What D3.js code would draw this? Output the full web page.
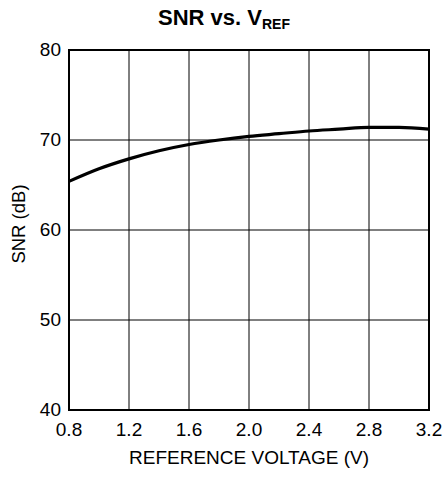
<!DOCTYPE html>
<html>
<head>
<meta charset="utf-8">
<script src="https://cdn.jsdelivr.net/npm/d3@7"></script>
<style>
  body { margin: 0; background: #fff; }
  text { font-family: "Liberation Sans", Arial, sans-serif; fill: #000; }
</style>
</head>
<body>
<div id="chart"></div>
<script>
// values
var vref = [0.8, 1.0, 1.2, 1.4, 1.6, 1.8, 2.0, 2.2, 2.4, 2.6, 2.8, 3.0, 3.2];
var snr = [65.4, 66.8, 67.9, 68.8, 69.5, 70.0, 70.4, 70.7, 71.0, 71.2, 71.4, 71.4, 71.2];
var xTicks = [0.8, 1.2, 1.6, 2.0, 2.4, 2.8, 3.2];
var yTicks = [40, 50, 60, 70, 80];

var width = 445, height = 478;
var margin = { top: 50, right: 16, bottom: 68, left: 69 };

var svg = d3.select("#chart").append("svg")
  .attr("width", width)
  .attr("height", height);

var x = d3.scaleLinear().domain([0.8, 3.2]).range([margin.left, width - margin.right]);
var y = d3.scaleLinear().domain([40, 80]).range([height - margin.bottom, margin.top]);

// grid
svg.append("g").selectAll("line")
  .data(xTicks)
  .enter().append("line")
  .attr("x1", function (d) { return x(d); })
  .attr("x2", function (d) { return x(d); })
  .attr("y1", y(40)).attr("y2", y(80))
  .attr("stroke", "#000").attr("stroke-width", 1);

svg.append("g").selectAll("line")
  .data(yTicks)
  .enter().append("line")
  .attr("x1", x(0.8)).attr("x2", x(3.2))
  .attr("y1", function (d) { return y(d); })
  .attr("y2", function (d) { return y(d); })
  .attr("stroke", "#000").attr("stroke-width", 1);

// frame
svg.append("rect")
  .attr("x", x(0.8)).attr("y", y(80))
  .attr("width", x(3.2) - x(0.8))
  .attr("height", y(40) - y(80))
  .attr("fill", "none").attr("stroke", "#000").attr("stroke-width", 2);

// curve
var line = d3.line()
  .curve(d3.curveMonotoneX)
  .x(function (d, i) { return x(vref[i]); })
  .y(function (d) { return y(d); });

svg.append("path")
  .datum(snr)
  .attr("d", line)
  .attr("fill", "none")
  .attr("stroke", "#000")
  .attr("stroke-width", 3.2);

// tick labels
svg.append("g").selectAll("text")
  .data(xTicks)
  .enter().append("text")
  .attr("x", function (d) { return x(d); })
  .attr("y", y(40) + 26)
  .attr("text-anchor", "middle")
  .style("font-size", "19px")
  .text(function (d) { return d.toFixed(1); });

svg.append("g").selectAll("text")
  .data(yTicks)
  .enter().append("text")
  .attr("x", x(0.8) - 8)
  .attr("y", function (d) { return y(d) + 6; })
  .attr("text-anchor", "end")
  .style("font-size", "19px")
  .text(function (d) { return d; });

// axis titles
svg.append("text")
  .attr("x", (x(0.8) + x(3.2)) / 2)
  .attr("y", 464)
  .attr("text-anchor", "middle")
  .style("font-size", "19px")
  .text("REFERENCE VOLTAGE (V)");

svg.append("text")
  .attr("transform", "translate(25,224) rotate(-90)")
  .attr("text-anchor", "middle")
  .style("font-size", "18.5px")
  .text("SNR (dB)");

// title
var title = svg.append("text")
  .attr("x", 224)
  .attr("y", 25)
  .attr("text-anchor", "middle")
  .style("font-size", "22px")
  .style("font-weight", "bold");
title.append("tspan").text("SNR vs. V");
title.append("tspan")
  .attr("dy", 4)
  .style("font-size", "14px")
  .text("REF");
</script>
</body>
</html>
